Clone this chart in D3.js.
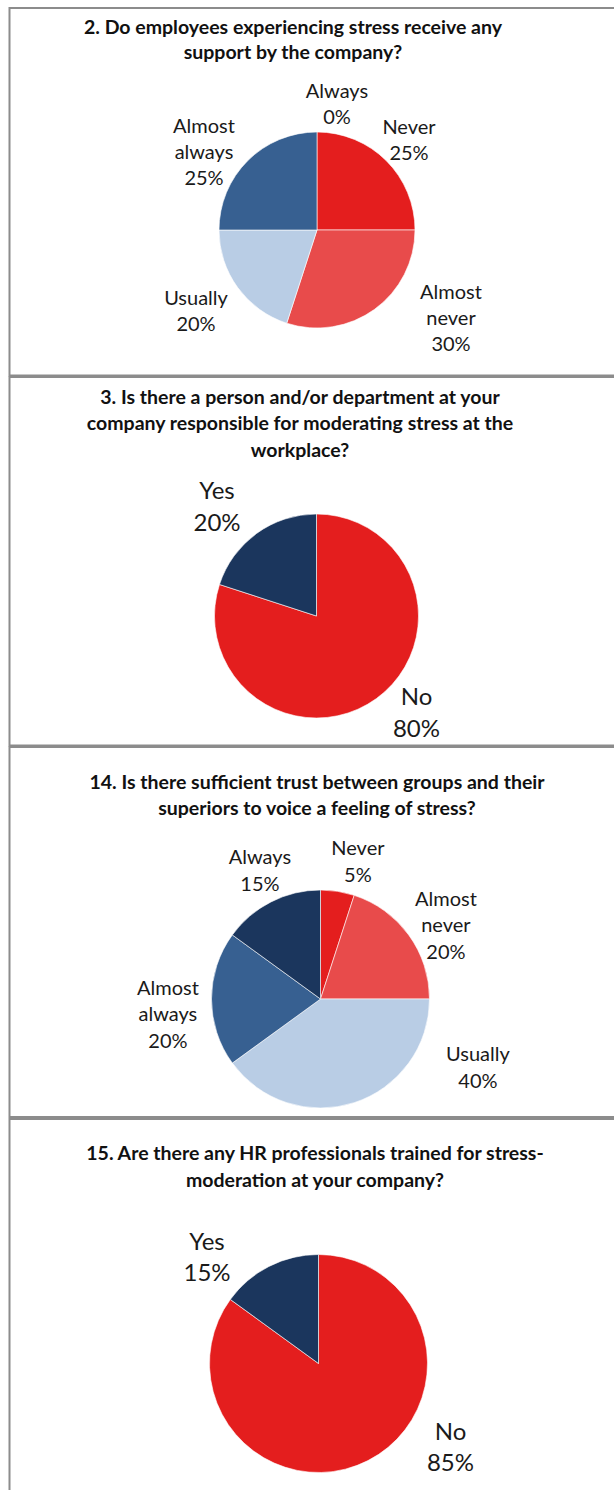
<!DOCTYPE html>
<html>
<head>
<meta charset="utf-8">
<script src="https://cdn.jsdelivr.net/npm/d3@7"></script>
<style>
  html, body { margin: 0; padding: 0; background: #fff; }
  svg { display: block; }
</style>
</head>
<body>
<svg id="chart" width="614" height="1490"></svg>
<script>
// ---------- DATA ----------
const chart1Title = ["2. Do employees experiencing stress receive any", "support by the company?"];
const chart1Categories = ["Never", "Almost never", "Usually", "Almost always", "Always"];
const chart1Values = [25, 30, 20, 25, 0];

const chart2Title = ["3. Is there a person and/or department at your", "company responsible for moderating stress at the", "workplace?"];
const chart2Categories = ["No", "Yes"];
const chart2Values = [80, 20];

const chart3Title = ["14. Is there sufficient trust between groups and their", "superiors to voice a feeling of stress?"];
const chart3Categories = ["Never", "Almost never", "Usually", "Almost always", "Always"];
const chart3Values = [5, 20, 40, 20, 15];

const chart4Title = ["15. Are there any HR professionals trained for stress-", "moderation at your company?"];
const chart4Categories = ["No", "Yes"];
const chart4Values = [85, 15];

// ---------- STYLE / LAYOUT ----------
const colors = {
  "Never": "#E41E1E",
  "Almost never": "#E84B4B",
  "Usually": "#B9CDE5",
  "Almost always": "#376091",
  "Always": "#1B365D",
  "No": "#E41E1E",
  "Yes": "#1B365D"
};

const panels = [
  {y0: 8, y1: 375.5},
  {y0: 377, y1: 745.5},
  {y0: 747, y1: 1117},
  {y0: 1119, y1: 1520}
];

const layouts = [
  {cx: 317, cy: 230, r: 98, titleX: 293, titleY: [27, 52], labelSize: 20, lineH: 26,
   labelOffsets: [[92, -90.5], [134, 88], [-121, 80.5], [-113, -78.5], [20, -126.5]]},
  {cx: 316.5, cy: 616, r: 102, titleX: 300, titleY: [397, 423, 450], labelSize: 24, lineH: 32,
   labelOffsets: [[100, 96.5], [-99.5, -109.5]]},
  {cx: 320.5, cy: 999, r: 109, titleX: 317, titleY: [782, 808], labelSize: 20, lineH: 26.5,
   labelOffsets: [[37.4, -137.5], [125.4, -74], [157.4, 68.5], [-152.6, 15], [-60.6, -128.5]]},
  {cx: 318.5, cy: 1363.5, r: 109, titleX: 315, titleY: [1153, 1180], labelSize: 24, lineH: 31,
   labelOffsets: [[132, 83.5], [-111.5, -106]]}
];

const charts = [
  {title: chart1Title, cats: chart1Categories, vals: chart1Values},
  {title: chart2Title, cats: chart2Categories, vals: chart2Values},
  {title: chart3Title, cats: chart3Categories, vals: chart3Values},
  {title: chart4Title, cats: chart4Categories, vals: chart4Values}
];

const svg = d3.select("#chart");
const fontFam = "Lato, 'Open Sans', 'DejaVu Sans', sans-serif";

// panel borders
svg.selectAll("rect.panel").data(panels).join("rect")
  .attr("class", "panel")
  .attr("x", 9.5).attr("y", d => d.y0)
  .attr("width", 640).attr("height", d => d.y1 - d.y0)
  .attr("fill", "none").attr("stroke", "#8c8c8c").attr("stroke-width", 2);

const color = d3.scaleOrdinal()
  .domain(Object.keys(colors))
  .range(Object.values(colors));

charts.forEach((c, i) => {
  const L = layouts[i];
  const g = svg.append("g");

  // title
  g.selectAll("text.title").data(c.title).join("text")
    .attr("class", "title")
    .attr("x", L.titleX)
    .attr("y", (d, j) => L.titleY[j])
    .attr("dy", "0.35em")
    .attr("text-anchor", "middle")
    .attr("font-family", fontFam)
    .attr("font-weight", "bold")
    .attr("font-size", 19.5)
    .attr("fill", "#111")
    .text(d => d);

  const data = c.cats.map((k, j) => ({cat: k, value: c.vals[j]}));
  const pie = d3.pie().sort(null).value(d => d.value);
  const arcs = pie(data);
  const arc = d3.arc().innerRadius(0).outerRadius(L.r);

  const pg = g.append("g").attr("transform", `translate(${L.cx},${L.cy})`);
  pg.selectAll("path").data(arcs.filter(a => a.data.value > 0)).join("path")
    .attr("d", arc)
    .attr("fill", d => color(d.data.cat))
    .attr("stroke", "#ffffff")
    .attr("stroke-width", 0.6);

  // labels
  arcs.forEach((a, j) => {
    const lines = a.data.cat.split(" ").concat([a.data.value + "%"]);
    const off = L.labelOffsets[j];
    const n = lines.length;
    const t = pg.append("text")
      .attr("text-anchor", "middle")
      .attr("font-family", fontFam)
      .attr("font-size", L.labelSize)
      .attr("fill", "#1a1a1a");
    lines.forEach((ln, k) => {
      t.append("tspan")
        .attr("x", off[0])
        .attr("y", off[1] + (k - (n - 1) / 2) * L.lineH)
        .attr("dy", "0.35em")
        .text(ln);
    });
  });
});
</script>
</body>
</html>
